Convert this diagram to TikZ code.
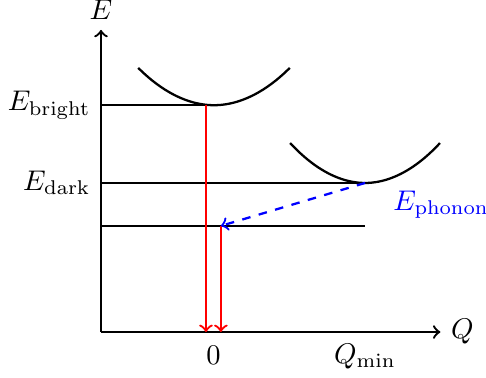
\documentclass[tikz,border=0pt]{standalone}
\begin{document}
\begin{tikzpicture}[level/.style={thick},emit/.style={->,thick,red}]
        \useasboundingbox (-1.247,-0.556) rectangle (4.753,4.099);
        \coordinate (O) at (0,0);
        \coordinate (Etop) at (0,3.73);
        \coordinate (Qend) at (4.19,0);
        \coordinate (Bl) at (0,2.80);
        \coordinate (Bv) at (1.395,2.80);
        \coordinate (Dl) at (0,1.84);
        \coordinate (Dv) at (3.26,1.84);
        \coordinate (Ll) at (0,1.31);
        \coordinate (Lr) at (3.26,1.31);
        \coordinate (L) at (1.48,1.31);
        \coordinate (Bs) at (1.296,2.80);
        \draw[->,thick] (O) -- (Etop) node[above] {$E$};
        \draw[->,thick] (O) -- (Qend) node[right] {$Q$};
        \draw[level] (Bl) node[left] {$E_{\rm bright}$} -- (Bv);
        \draw[level] (Dl) node[left] {$E_{\rm dark}$} -- (Dv);
        \draw[level] (Ll) -- (Lr);
        \draw[level] (0.46,3.26) parabola bend (Bv) (2.33,3.26);
        \draw[level] (2.335,2.333) parabola bend (Dv) (4.185,2.333);
        \draw[emit] (Bs) -- (Bs |- O);
        \draw[emit] (L) -- (L |- O);
        \draw[->,thick,dashed,blue] (Dv) -- (L);
        \node[blue] (ph) at (4.2,1.57) {$E_{\rm phonon}$};
        \node (zero) at (1.39,-0.29) {$0$};
        \node (qmin) at (3.26,-0.3) {$Q_{\min}$};
    \end{tikzpicture}
\end{document}
